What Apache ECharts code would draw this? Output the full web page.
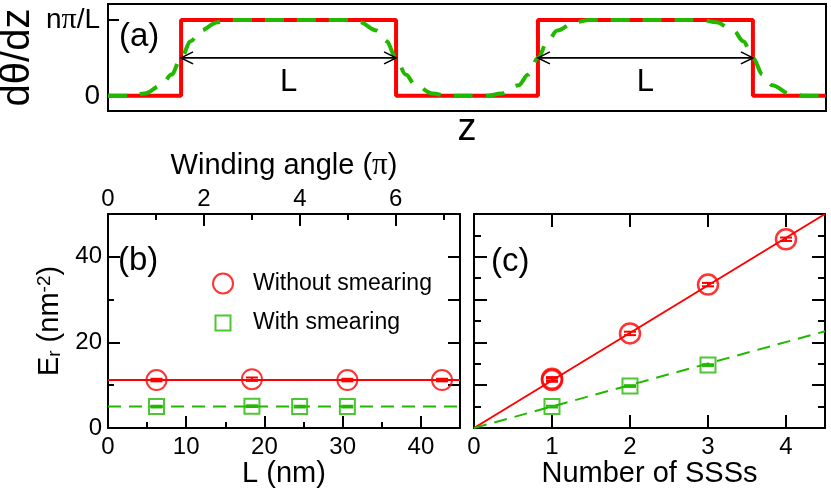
<!DOCTYPE html>
<html><head><meta charset="utf-8">
<script src="https://cdn.jsdelivr.net/npm/echarts@6/dist/echarts.min.js"></script>
<style>html,body{margin:0;padding:0;background:#fff}#c{width:831px;height:491px}</style>
</head><body><div id="c"></div>
<script>
// ---------- Panel (a): dθ/dz profile along z (units of L) ----------
const stepProfile = [[0,0],[0.34,0],[0.34,1],[1.34,1],[1.34,0],[2.0,0],[2.0,1],[3.0,1],[3.0,0],[3.34,0]];
const smearedProfile = [
  [0,0],[0.10,0],[0.17,0.03],[0.25,0.14],[0.295,0.28],[0.34,0.5],[0.385,0.72],[0.43,0.86],[0.51,0.97],[0.58,1],
  [1.10,1],[1.17,0.97],[1.25,0.86],[1.295,0.72],[1.34,0.5],[1.385,0.28],[1.43,0.14],[1.51,0.03],[1.58,0],
  [1.76,0],[1.83,0.03],[1.91,0.14],[1.955,0.28],[2.0,0.5],[2.045,0.72],[2.09,0.86],[2.17,0.97],[2.24,1],
  [2.76,1],[2.83,0.97],[2.91,0.86],[2.955,0.72],[3.0,0.5],[3.045,0.28],[3.09,0.14],[3.17,0.03],[3.24,0],[3.34,0]
];
const lengthSpans = [[0.34,1.34,0.5,0.18],[2.0,3.0,0.5,0.18]]; // start, end, arrow level, label level
const aTicks = [0,1];
const aTickLabels = {0:'{t|0}', 1:'{t|n}{p|π}{t|/L}'};

// ---------- Panel (b): E_r vs L ----------
const bL_without = [6.2,18.4,30.6,42.7];
const bE_without = [11.2,11.4,11.2,11.2];
const bErr_without = [0.3,0.4,0.3,0.3];
const bL_with = [6.2,18.4,24.5,30.6];
const bE_with = [5.0,5.1,5.0,5.0];
const bErr_with = [0.2,0.2,0.2,0.2];
const bFitWithout = [[0,11.2],[45,11.2]];
const bFitWith = [[0,5.0],[45,5.0]];
const bLMajor = [0,10,20,30,40];
const bLMinor = [5,15,25,35,45];
const bWindMajor = [0,2,4,6];
const bWindMinor = [1,3,5,7];
const bEMajor = [0,20,40];
const bEMinor = [10,30];
const bERight = [10,20,30,40];

// ---------- Panel (c): E_r vs number of SSSs ----------
const cN_without = [1,1,2,3,4];
const cE_without = [11.2,11.5,22.1,33.5,44.1];
const cErr_without = [0.4,0.4,0.4,0.4,0.4];
const cN_with = [1,2,3];
const cE_with = [5.0,9.8,14.7];
const cErr_with = [0.2,0.2,0.2];
const cFitWithout = [[0,0],[4.5,50]];
const cFitWith = [[0,0],[4.5,22.6]];
const cNTicks = [1,2,3,4];
const cNLabels = [0,1,2,3,4];
const cEMajor = [10,20,30,40];
const cEMinor = [5,15,25,35,45];

const FONT = "'Liberation Sans', Arial, sans-serif";
const SERIF = "'Liberation Serif', 'DejaVu Serif', serif";
const K = '#000', RED = '#ff0000', GREEN = '#22b800';

function axisBase(o) {
  const base = {
    type: 'value', splitLine: {show: false},
    axisLine: {show: !!o.line, onZero: false, lineStyle: {color: K, width: 2}},
    axisTick: o.ticks ? {show: true, inside: true, length: o.tlen, customValues: o.ticks, lineStyle: {color: K, width: 2}} : {show: false},
    axisLabel: o.labels ? {show: true, customValues: o.labels, fontSize: o.lsize || 24, color: K, margin: o.margin, fontFamily: FONT, formatter: o.fmt, rich: o.rich} : {show: false},
    gridIndex: o.grid, position: o.pos, min: o.min, max: o.max
  };
  if (o.name) {
    base.name = o.name; base.nameLocation = 'middle'; base.nameGap = o.gap;
    base.nameMoveOverlap = false;
    base.nameTextStyle = Object.assign({fontSize: o.nsize || 29, color: K, fontFamily: FONT}, o.nstyle || {});
  }
  return base;
}

function zip(xs, ys, es) { return xs.map((x, i) => es ? [x, ys[i], es[i]] : [x, ys[i]]); }

function errBar(color, cap) {
  return function (params, api) {
    const x = api.value(0), y = api.value(1), e = api.value(2);
    const lo = api.coord([x, y - e]), hi = api.coord([x, y + e]);
    const st = {stroke: color, lineWidth: 2};
    return {type: 'group', children: [
      {type: 'line', shape: {x1: lo[0], y1: lo[1], x2: hi[0], y2: hi[1]}, style: st},
      {type: 'line', shape: {x1: lo[0] - cap, y1: lo[1], x2: lo[0] + cap, y2: lo[1]}, style: st},
      {type: 'line', shape: {x1: hi[0] - cap, y1: hi[1], x2: hi[0] + cap, y2: hi[1]}, style: st}
    ]};
  };
}

function arrowRender(params, api) {
  const z1 = api.value(0), z2 = api.value(1), ya = api.value(2), yl = api.value(3);
  const a = api.coord([z1, ya]), b = api.coord([z2, ya]);
  const m = api.coord([(z1 + z2) / 2, yl]);
  const st = {stroke: K, lineWidth: 1.6, fill: null};
  const h = 12, w = 6;
  return {type: 'group', children: [
    {type: 'line', shape: {x1: a[0], y1: a[1], x2: b[0], y2: b[1]}, style: st},
    {type: 'polyline', shape: {points: [[a[0] + h, a[1] - w], [a[0], a[1]], [a[0] + h, a[1] + w]]}, style: st},
    {type: 'polyline', shape: {points: [[b[0] - h, b[1] - w], [b[0], b[1]], [b[0] - h, b[1] + w]]}, style: st},
    {type: 'text', style: {x: m[0], y: m[1], text: 'L', fontSize: 31, fontFamily: FONT, fill: K, align: 'center', verticalAlign: 'middle'}}
  ]};
}

const chart = echarts.init(document.getElementById('c'), null, {renderer: 'canvas'});
chart.setOption({
  animation: false,
  backgroundColor: '#fff',
  grid: [
    {left: 108, top: 4, width: 718, height: 107, show: true, borderColor: K, borderWidth: 2, backgroundColor: 'transparent', outerBoundsMode: 'none', containLabel: false},
    {left: 108, top: 214, width: 352, height: 214, outerBoundsMode: 'none', containLabel: false},
    {left: 474, top: 214, width: 351, height: 214, outerBoundsMode: 'none', containLabel: false}
  ],
  xAxis: [
    axisBase({grid: 0, pos: 'bottom', min: 0, max: 3.34, line: true, name: 'z', gap: 0, nsize: 38}),
    axisBase({grid: 1, pos: 'bottom', min: 0, max: 45, line: true, ticks: bLMajor, tlen: 12, labels: bLMajor, margin: 7, name: 'L (nm)', gap: 31}),
    axisBase({grid: 1, pos: 'bottom', min: 0, max: 45, ticks: bLMinor, tlen: 6}),
    axisBase({grid: 1, pos: 'top', min: 0, max: 7.34, line: true, ticks: bWindMajor, tlen: 12, labels: bWindMajor, margin: 3,
      name: '{t|Winding angle (}{p|π}{t|)}', gap: 33,
      nstyle: {rich: {t: {fontSize: 29, fontFamily: FONT, color: K}, p: {fontSize: 31, fontFamily: SERIF, color: K}}}}),
    axisBase({grid: 1, pos: 'top', min: 0, max: 7.34, ticks: bWindMinor, tlen: 6}),
    axisBase({grid: 2, pos: 'bottom', min: 0, max: 4.5, line: true, ticks: cNTicks, tlen: 13, labels: cNLabels, margin: 7, name: 'Number of SSSs', gap: 31}),
    axisBase({grid: 2, pos: 'top', min: 0, max: 4.5, line: true, ticks: cNTicks, tlen: 13})
  ],
  yAxis: [
    axisBase({grid: 0, pos: 'left', min: -0.2, max: 1.21, line: true, ticks: aTicks, tlen: 11, labels: aTicks, margin: 8, lsize: 28,
      fmt: v => aTickLabels[Math.round(v)],
      rich: {t: {fontSize: 28, fontFamily: FONT, color: K}, p: {fontSize: 30, fontFamily: SERIF, color: K}},
      name: 'dθ/dz', gap: 70, nsize: 40}),
    axisBase({grid: 1, pos: 'left', min: 0, max: 50, line: true, ticks: bEMajor, tlen: 12, labels: bEMajor, margin: 6,
      name: '{n|E}{s|r}{n| (nm}{p|-2}{n|)}', gap: 44,
      nstyle: {rich: {
        n: {fontSize: 29, fontFamily: FONT, color: K},
        s: {fontSize: 19, fontFamily: FONT, color: K, lineHeight: 4, verticalAlign: 'bottom'},
        p: {fontSize: 19, fontFamily: FONT, color: K, lineHeight: 2, verticalAlign: 'top'}
      }}}),
    axisBase({grid: 1, pos: 'left', min: 0, max: 50, ticks: bEMinor, tlen: 6}),
    axisBase({grid: 1, pos: 'right', min: 0, max: 50, line: true, ticks: bERight, tlen: 12}),
    axisBase({grid: 2, pos: 'left', min: 0, max: 50, line: true, ticks: cEMajor, tlen: 13}),
    axisBase({grid: 2, pos: 'left', min: 0, max: 50, ticks: cEMinor, tlen: 7}),
    axisBase({grid: 2, pos: 'right', min: 0, max: 50, line: true, ticks: cEMajor, tlen: 13}),
    axisBase({grid: 2, pos: 'right', min: 0, max: 50, ticks: cEMinor, tlen: 7})
  ],
  legend: [
    {data: ['Without smearing'], left: 207, top: 267, itemWidth: 20, itemHeight: 20, selectedMode: false,
      textStyle: {fontSize: 23, color: K, fontFamily: FONT, padding: [0, 0, 0, 15]}},
    {data: ['With smearing'], left: 209.5, top: 306.5, itemWidth: 15, itemHeight: 15, selectedMode: false,
      textStyle: {fontSize: 23, color: K, fontFamily: FONT, padding: [0, 0, 0, 17.5]}}
  ],
  graphic: [
    {type: 'text', left: 119, top: 20, style: {text: '(a)', fontSize: 33, fontFamily: FONT, fill: K}},
    {type: 'text', left: 118, top: 244, style: {text: '(b)', fontSize: 33, fontFamily: FONT, fill: K}},
    {type: 'text', left: 491, top: 245, style: {text: '(c)', fontSize: 33, fontFamily: FONT, fill: K}}
  ],
  series: [
    // panel (a)
    {type: 'line', xAxisIndex: 0, yAxisIndex: 0, data: stepProfile, symbol: 'none', lineStyle: {color: RED, width: 4}, z: 2},
    {type: 'line', xAxisIndex: 0, yAxisIndex: 0, data: smearedProfile, symbol: 'none', smooth: 0.35, smoothMonotone: 'x',
      lineStyle: {color: GREEN, width: 4, type: [19, 13]}, z: 3},
    {type: 'custom', xAxisIndex: 0, yAxisIndex: 0, data: lengthSpans, renderItem: arrowRender, z: 4},
    // panel (b)
    {type: 'line', xAxisIndex: 1, yAxisIndex: 1, data: bFitWithout, symbol: 'none', lineStyle: {color: RED, width: 2}},
    {type: 'line', xAxisIndex: 1, yAxisIndex: 1, data: bFitWith, symbol: 'none', lineStyle: {color: GREEN, width: 2, type: [13, 8]}},
    {type: 'custom', xAxisIndex: 1, yAxisIndex: 1, data: zip(bL_without, bE_without, bErr_without), renderItem: errBar(RED, 6)},
    {type: 'custom', xAxisIndex: 1, yAxisIndex: 1, data: zip(bL_with, bE_with, bErr_with), renderItem: errBar(GREEN, 6)},
    {name: 'Without smearing', type: 'scatter', xAxisIndex: 1, yAxisIndex: 1, data: zip(bL_without, bE_without), symbol: 'circle', symbolSize: 20,
      itemStyle: {color: 'rgba(0,0,0,0)', borderColor: RED, borderWidth: 2}},
    {name: 'With smearing', type: 'scatter', xAxisIndex: 1, yAxisIndex: 1, data: zip(bL_with, bE_with), symbol: 'rect', symbolSize: 15,
      itemStyle: {color: 'rgba(0,0,0,0)', borderColor: GREEN, borderWidth: 2}},
    // panel (c)
    {type: 'line', xAxisIndex: 5, yAxisIndex: 4, data: cFitWithout, symbol: 'none', lineStyle: {color: RED, width: 2}},
    {type: 'line', xAxisIndex: 5, yAxisIndex: 4, data: cFitWith, symbol: 'none', lineStyle: {color: GREEN, width: 2, type: [13, 8]}},
    {type: 'custom', xAxisIndex: 5, yAxisIndex: 4, data: zip(cN_without, cE_without, cErr_without), renderItem: errBar(RED, 6)},
    {type: 'custom', xAxisIndex: 5, yAxisIndex: 4, data: zip(cN_with, cE_with, cErr_with), renderItem: errBar(GREEN, 6)},
    {name: 'c-without', type: 'scatter', xAxisIndex: 5, yAxisIndex: 4, data: zip(cN_without, cE_without), symbol: 'circle', symbolSize: 20,
      itemStyle: {color: 'rgba(0,0,0,0)', borderColor: RED, borderWidth: 2.5}},
    {name: 'c-with', type: 'scatter', xAxisIndex: 5, yAxisIndex: 4, data: zip(cN_with, cE_with), symbol: 'rect', symbolSize: 15,
      itemStyle: {color: 'rgba(0,0,0,0)', borderColor: GREEN, borderWidth: 2}}
  ]
});
</script></body></html>
